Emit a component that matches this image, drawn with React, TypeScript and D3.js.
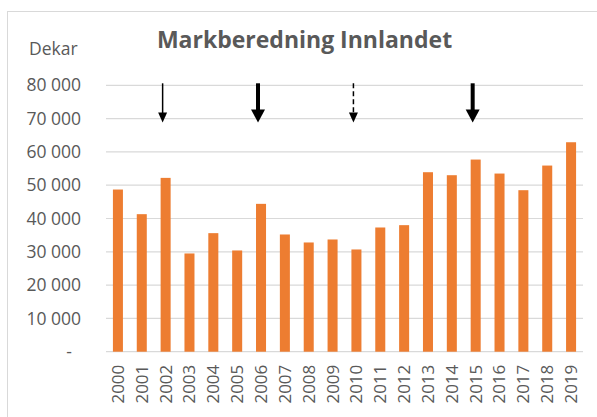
import React from "react";
import * as d3 from "d3";

const years = ["2000","2001","2002","2003","2004","2005","2006","2007","2008","2009","2010","2011","2012","2013","2014","2015","2016","2017","2018","2019"];
const values = [48700,41300,52200,29500,35600,30400,44400,35200,32800,33700,30700,37300,38000,53900,53000,57700,53500,48500,55900,62900];
const yTicks = [0,10000,20000,30000,40000,50000,60000,70000,80000];
const tickLabels = ["-","10 000","20 000","30 000","40 000","50 000","60 000","70 000","80 000"];
const arrowYears = ["2002","2006","2010","2015"];
const arrowStyles = ["thin","thick","dashed","thick"];

const W = 597, H = 417;
const M = { left: 106, right: 14, top: 85.3, bottom: 65.3 };

export default function App() {
  const x = d3.scaleBand<string>().domain(years).range([M.left, W - M.right]).paddingInner(0.58).paddingOuter(0.29);
  const y = d3.scaleLinear().domain([0, 80000]).range([H - M.bottom, M.top]);
  const cx = (yr: string) => (x(yr) as number) + x.bandwidth() / 2;
  const grey = "#595959";
  const font = "'Open Sans', sans-serif";
  const arrowTop = y(80000) - 2;
  const arrowTip = y(68800);
  return (
    <div style={{ position: "absolute", left: 0, top: 0 }}>
      <svg width={W} height={H} style={{ display: "block", background: "#fff" }}>
        <rect x={7.5} y={11.5} width={W + 20} height={H + 20} fill="#fff" stroke="#D9D9D9" strokeWidth={1} />
        <text x={304.5} y={48.3} textAnchor="middle" fontFamily={font} fontWeight={700} fontSize={23} fill={grey}>Markberedning Innlandet</text>
        <text x={29} y={55} fontFamily={font} fontSize={17.5} fill={grey}>Dekar</text>
        {yTicks.map((t, i) => (
          <g key={t}>
            <line x1={M.left} x2={W - M.right} y1={y(t)} y2={y(t)} stroke="#D9D9D9" strokeWidth={1.2} />
            <text x={t === 0 ? 72 : 81} y={y(t)} dy="0.35em" textAnchor="end" fontFamily={font} fontSize={17.5} fill={grey}>{tickLabels[i]}</text>
          </g>
        ))}
        {years.map((yr, i) => (
          <rect key={yr} x={x(yr)} y={y(values[i])} width={x.bandwidth()} height={y(0) - y(values[i])} fill="#ED7D31" />
        ))}
        {years.map((yr) => (
          <text key={"l" + yr} transform={`translate(${cx(yr)},${y(0) + 13}) rotate(-90)`} textAnchor="end" dy="0.35em" fontFamily={font} fontSize={17} fill={grey}>{yr}</text>
        ))}
        {arrowYears.map((yr, i) => {
          const s = arrowStyles[i];
          const ax = cx(yr) - 3;
          const thick = s === "thick";
          const hw = thick ? 7 : 4.5;
          const hh = thick ? 13 : 10;
          return (
            <g key={"a" + yr}>
              <line x1={ax} x2={ax} y1={arrowTop} y2={arrowTip - hh + 1} stroke="#000" strokeWidth={thick ? 4 : 1.5} strokeDasharray={s === "dashed" ? "5,3" : undefined} />
              <path d={`M${ax - hw},${arrowTip - hh} L${ax + hw},${arrowTip - hh} L${ax},${arrowTip} Z`} fill="#000" />
            </g>
          );
        })}
      </svg>
    </div>
  );
}
